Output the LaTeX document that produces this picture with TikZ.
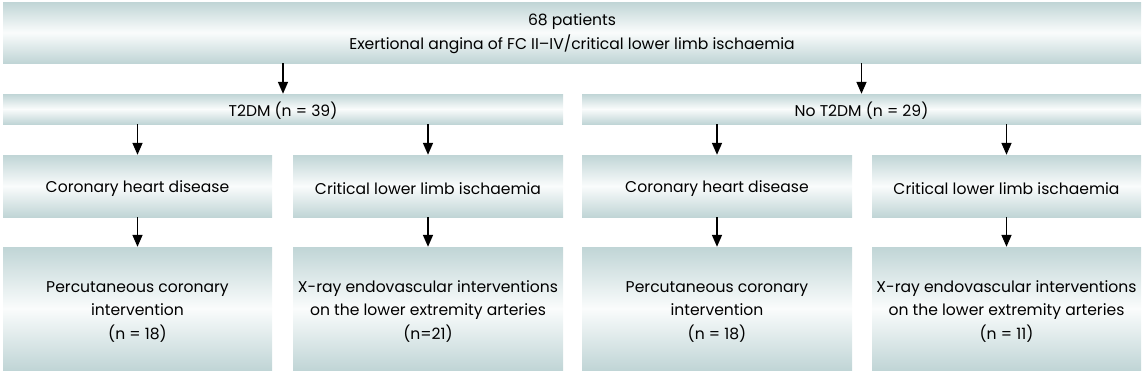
\documentclass[tikz,border=0pt]{standalone}
\usepackage{fontspec}
\setmainfont{Poppins}
\usetikzlibrary{arrows.meta}
\definecolor{edgec}{RGB}{192,213,214}
\definecolor{midc}{RGB}{250,252,252}
\newcommand{\tstrut}{\rule{0pt}{17pt}}
\tikzset{
  box/.style={rectangle, inner sep=0pt, top color=edgec, bottom color=edgec, middle color=midc, draw=none, align=center, font=\fontsize{15.6}{23.5}\selectfont, execute at begin node={\rule{0pt}{18pt}}},
  arr/.style={-{Triangle[length=12pt,width=10pt]}, line width=1.6pt, black}
}
\begin{document}
\begin{tikzpicture}[x=1pt,y=-1pt]
\useasboundingbox (0,0) rectangle (1144,372);
\node[box, minimum width=1138pt, minimum height=61pt, font=\fontsize{15.6}{24.5}\selectfont] (top) at (572,32.5) {\rule{0pt}{14pt}68 patients\\Exertional angina of FC II–IV/critical lower limb ischaemia};
\node[box, minimum width=560pt, minimum height=30pt] (t2) at (283,109) {T2DM (n = 39)};
\node[box, minimum width=559pt, minimum height=30pt] (nt2) at (861.5,109) {No T2DM (n = 29)};
\node[box, minimum width=269pt, minimum height=62pt] (c1) at (137.5,186) {Coronary heart disease};
\node[box, minimum width=270pt, minimum height=62pt] (c2) at (428,186) {Critical lower limb ischaemia};
\node[box, minimum width=270pt, minimum height=62pt] (c3) at (717,186) {Coronary heart disease};
\node[box, minimum width=269pt, minimum height=62pt] (c4) at (1006.5,186) {Critical lower limb ischaemia};
\node[box, minimum width=269pt, minimum height=123pt] (p1) at (137.5,308.5) {\tstrut Percutaneous coronary\\intervention\\(n = 18)};
\node[box, minimum width=270pt, minimum height=123pt] (p2) at (428,308.5) {\tstrut X-ray endovascular interventions\\on the lower extremity arteries\\(n=21)};
\node[box, minimum width=270pt, minimum height=123pt] (p3) at (717,308.5) {\tstrut Percutaneous coronary\\intervention\\(n = 18)};
\node[box, minimum width=269pt, minimum height=123pt] (p4) at (1006.5,308.5) {\tstrut X-ray endovascular interventions\\on the lower extremity arteries\\(n = 11)};
\foreach \a/\b in {top/t2, top/nt2, t2/c1, t2/c2, nt2/c3, nt2/c4, c1/p1, c2/p2, c3/p3, c4/p4}
  \draw[arr] (\b.north |- \a.south) -- (\b.north);
\end{tikzpicture}
\end{document}
